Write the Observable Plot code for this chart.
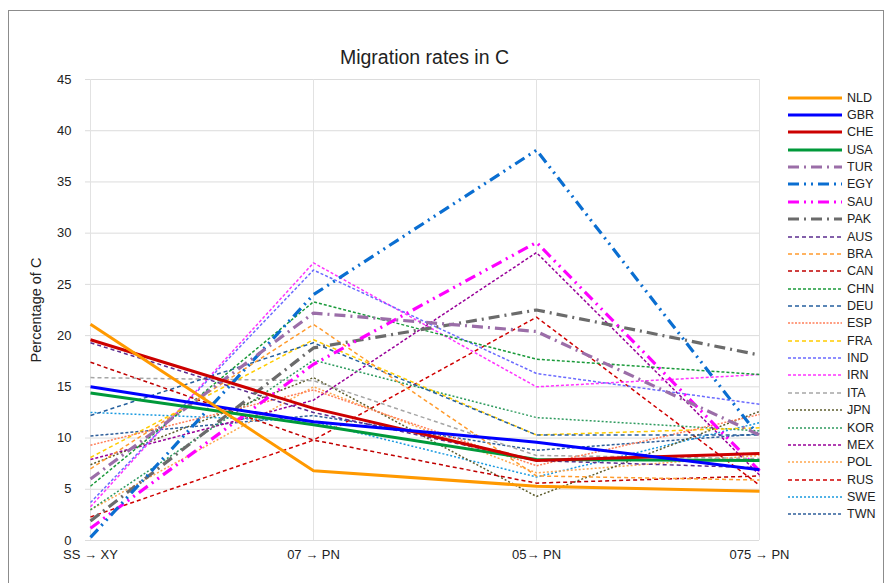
<!DOCTYPE html>
<html>
<head>
<meta charset="utf-8">
<script src="https://cdn.jsdelivr.net/npm/d3@7"></script>
<script src="https://cdn.jsdelivr.net/npm/@observablehq/plot@0.6"></script>
<style>
  html, body { margin: 0; padding: 0; background: #fff; }
  #wrap { position: relative; width: 891px; height: 583px; font-family: "Liberation Sans", Arial, sans-serif; overflow: hidden; }
  #frame { position: absolute; left: 8px; top: 10px; width: 876px; height: 600px; border: 1px solid #8c8c8c; box-sizing: border-box; }
  #title { position: absolute; left: 90px; width: 669px; top: 46px; text-align: center; font-size: 19.5px; color: #222; }
  #chart { position: absolute; left: 0; top: 0; }
  #legend { position: absolute; left: 788px; top: 89px; }
  .row { height: 17.37px; display: flex; align-items: center; font-size: 12.5px; color: #222; }
  .row svg { margin-right: 5px; }
  g[aria-label="y-axis label"] text { font-size: 14.5px; }
</style>
</head>
<body>
<div id="wrap">
  <div id="frame"></div>
  <div id="chart"></div>
  <div id="title">Migration rates in C</div>
  <div id="legend"></div>
</div>
<script>
// ---- data ----
const categories = ["SS → XY", "07 → PN", "05→ PN", "075 → PN"];
const yTicks = [0, 5, 10, 15, 20, 25, 30, 35, 40, 45];
const countries = ["NLD","GBR","CHE","USA","TUR","EGY","SAU","PAK","AUS","BRA","CAN","CHN","DEU","ESP","FRA","IND","IRN","ITA","JPN","KOR","MEX","POL","RUS","SWE","TWN"];

const NLD = [21.1, 6.8, 5.3, 4.8];
const GBR = [15.0, 11.6, 9.6, 6.9];
const CHE = [19.6, 12.9, 7.8, 8.5];
const USA = [14.4, 11.3, 7.9, 7.8];
const TUR = [6.0, 22.2, 20.4, 10.3];
const EGY = [0.3, 24.0, 38.1, 10.1];
const SAU = [1.2, 17.2, 29.1, 6.8];
const PAK = [1.9, 18.8, 22.5, 18.1];
const AUS = [19.3, 12.5, 7.8, 7.1];
const BRA = [7.0, 21.1, 6.3, 5.9];
const CAN = [17.4, 9.8, 5.6, 6.3];
const CHN = [5.3, 23.3, 17.7, 16.2];
const DEU = [12.2, 19.3, 10.3, 10.3];
const ESP = [9.3, 14.7, 7.3, 12.3];
const FRA = [8.1, 19.6, 10.3, 11.0];
const IND = [3.7, 26.4, 16.3, 13.3];
const IRN = [3.3, 27.1, 15.0, 16.2];
const ITA = [15.9, 15.6, 8.3, 8.0];
const JPN = [7.4, 15.9, 4.3, 12.6];
const KOR = [3.0, 17.6, 12.0, 10.7];
const MEX = [7.9, 13.7, 28.1, 6.4];
const POL = [3.0, 15.0, 6.6, 8.3];
const RUS = [2.3, 9.8, 21.8, 5.4];
const SWE = [12.5, 11.6, 6.2, 11.5];
const TWN = [10.2, 12.2, 8.8, 10.4];

const seriesValues = {NLD,GBR,CHE,USA,TUR,EGY,SAU,PAK,AUS,BRA,CAN,CHN,DEU,ESP,FRA,IND,IRN,ITA,JPN,KOR,MEX,POL,RUS,SWE,TWN};

// ---- styles ----
const colors = {
  NLD:"#ff9900", GBR:"#0000ff", CHE:"#cc0000", USA:"#00993a",
  TUR:"#9b6ea8", EGY:"#0a6ed1", SAU:"#ff00ff", PAK:"#6b6b6b",
  AUS:"#5b2c8f", BRA:"#ff9b2e", CAN:"#c00000", CHN:"#1a9a3a",
  DEU:"#245f9e", ESP:"#ff7f5a", FRA:"#ffcc00", IND:"#6b6bff",
  IRN:"#ff33ff", ITA:"#a6a6a6", JPN:"#5e5e2e", KOR:"#2f9b5f",
  MEX:"#990099", POL:"#ffa64d", RUS:"#d00000", SWE:"#1a9ae0", TWN:"#2f5f9a"
};
const solid = ["NLD","GBR","CHE","USA"];
const dashDot = ["TUR","EGY","SAU","PAK"];
const dashes = {
  TUR:"11,5,2,5", EGY:"11,5,2,5,2,5", SAU:"11,5,2,5,2,5", PAK:"11,5,2,5",
  AUS:"4,3", BRA:"4,3", CAN:"4,3", CHN:"3,2", DEU:"4,3", ESP:"2,1.5", FRA:"4,3",
  IND:"3,2", IRN:"3,2", ITA:"4,3", JPN:"2,2", KOR:"2,2", MEX:"3,2", POL:"2,2",
  RUS:"4,3", SWE:"2,2", TWN:"3,2"
};
function widthOf(c) { return solid.includes(c) ? 3 : dashDot.includes(c) ? 3.2 : 1.5; }

// ---- chart ----
const drawOrder = [...countries.filter(c => !solid.includes(c) && !dashDot.includes(c)).reverse(),
                   ...dashDot.slice().reverse(), ...solid.slice().reverse()];

const lineMarks = drawOrder.map(c => Plot.line(
  categories.map((cat, i) => ({cat, v: seriesValues[c][i]})),
  {x: "cat", y: "v", stroke: colors[c], strokeWidth: widthOf(c),
   strokeDasharray: dashes[c] || null, strokeLinejoin: "miter", strokeLinecap: "butt"}
));

const chart = Plot.plot({
  width: 891, height: 583,
  marginLeft: 90, marginRight: 132, marginTop: 79, marginBottom: 43,
  style: {fontFamily: "'Liberation Sans', Arial, sans-serif", fontSize: "13px", color: "#222", background: "transparent", overflow: "visible"},
  x: {type: "point", domain: categories, padding: 0},
  y: {domain: [0, 45]},
  marks: [
    Plot.gridY(yTicks, {stroke: "#dcdcdc", strokeOpacity: 1, strokeWidth: 1}),
    Plot.gridX(categories, {stroke: "#e2e2e2", strokeOpacity: 1, strokeWidth: 1}),
    Plot.axisY(yTicks, {tickSize: 5, tickPadding: 14, stroke: "#dcdcdc", fill: "#222", fontSize: 13,
      label: "Percentage of C", labelAnchor: "center", labelArrow: "none", labelOffset: 60}),
    Plot.axisX(categories, {tickSize: 0, tickPadding: 9, fill: "#222", fontSize: 13, label: null}),
    ...lineMarks
  ]
});
document.getElementById("chart").appendChild(chart);

// ---- legend ----
const legend = d3.select("#legend");
countries.forEach(c => {
  const row = legend.append("div").attr("class", "row");
  const svg = row.append("svg").attr("width", 54).attr("height", 10);
  svg.append("line").attr("x1", 0).attr("x2", 54).attr("y1", 5).attr("y2", 5)
    .attr("stroke", colors[c]).attr("stroke-width", widthOf(c))
    .attr("stroke-dasharray", dashes[c] || null);
  row.append("span").text(c);
});
</script>
</body>
</html>
